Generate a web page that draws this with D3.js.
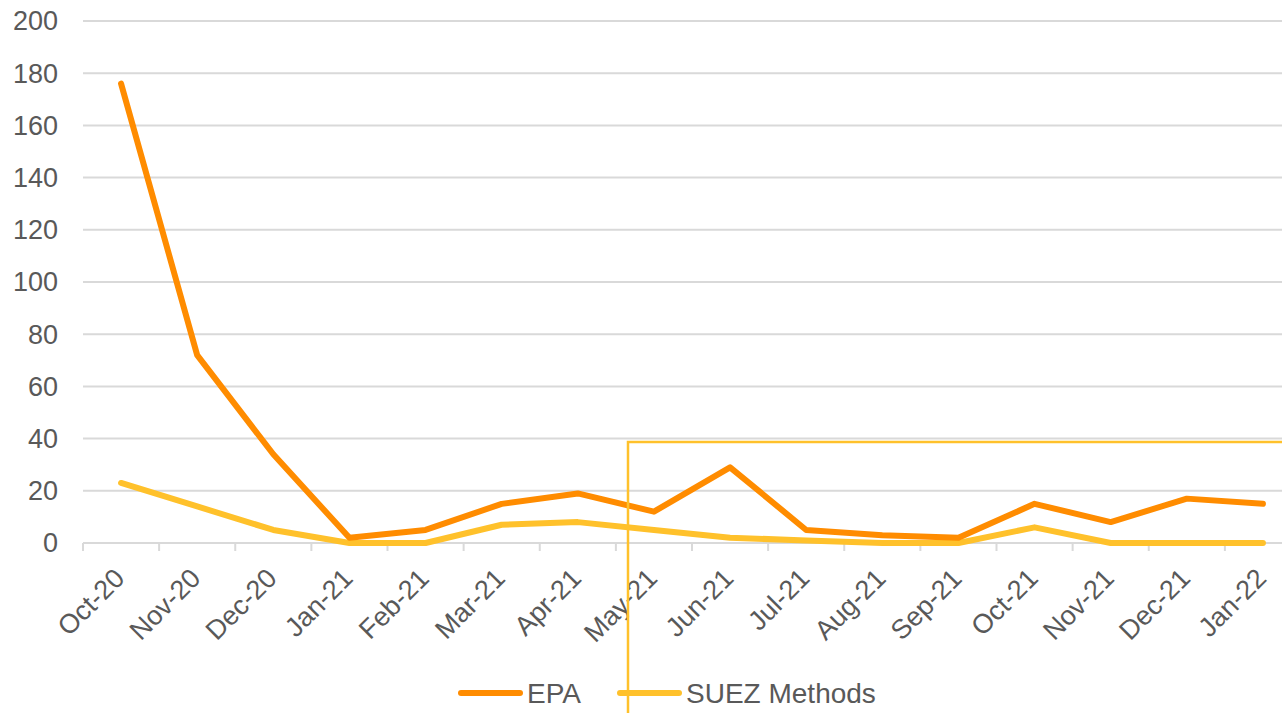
<!DOCTYPE html>
<html lang="en">
<head>
  <meta charset="UTF-8">
  <title>EPA vs SUEZ Methods</title>
  <script src="https://d3js.org/d3.v7.min.js"></script>
  <style>
    body { margin: 0; background: #fff; }
    text { font-family: "Liberation Sans", Arial, sans-serif; fill: #595959; }
  </style>
</head>
<body>
  <svg id="chart" width="1282" height="713"></svg>
  <script>
    const months = ["Oct-20", "Nov-20", "Dec-20", "Jan-21", "Feb-21", "Mar-21", "Apr-21", "May-21",
      "Jun-21", "Jul-21", "Aug-21", "Sep-21", "Oct-21", "Nov-21", "Dec-21", "Jan-22"];
    const epa = [176, 72, 34, 2, 5, 15, 19, 12, 29, 5, 3, 2, 15, 8, 17, 15];
    const suez = [23, 14, 5, 0, 0, 7, 8, 5, 2, 1, 0, 0, 6, 0, 0, 0];
    const yTicks = [0, 20, 40, 60, 80, 100, 120, 140, 160, 180, 200];

    const series = [
      { name: "EPA", values: epa, color: "#FF8C00" },
      { name: "SUEZ Methods", values: suez, color: "#FFC12B" }
    ];

    const svg = d3.select("#chart");
    const width = +svg.attr("width");
    const height = +svg.attr("height");
    const margin = { top: 21, bottom: 170, left: 83 };

    // the category axis runs a little past the right edge of the picture
    const x = d3.scaleBand().domain(months).range([margin.left, 1301]);
    const y = d3.scaleLinear().domain([0, 200]).range([height - margin.bottom, margin.top]);
    const cx = d => x(d) + x.bandwidth() / 2;

    // gridlines
    svg.append("g")
      .selectAll("line")
      .data(yTicks)
      .enter().append("line")
      .attr("x1", margin.left)
      .attr("x2", width)
      .attr("y1", d => y(d))
      .attr("y2", d => y(d))
      .style("stroke", "#d9d9d9")
      .style("stroke-width", 2);

    // y labels
    svg.append("g")
      .selectAll("text")
      .data(yTicks)
      .enter().append("text")
      .attr("x", 58)
      .attr("y", d => y(d))
      .attr("dy", "0.35em")
      .style("text-anchor", "end")
      .style("font-size", "27px")
      .text(d => d);

    // x tick marks at band edges
    const edges = months.map(m => x(m)).concat([x(months[months.length - 1]) + x.bandwidth()]);
    svg.append("g")
      .selectAll("line")
      .data(edges)
      .enter().append("line")
      .attr("x1", d => d)
      .attr("x2", d => d)
      .attr("y1", y(0))
      .attr("y2", y(0) + 8)
      .style("stroke", "#d9d9d9")
      .style("stroke-width", 2);

    // x labels
    svg.append("g")
      .selectAll("text")
      .data(months)
      .enter().append("text")
      .attr("transform", d => `translate(${cx(d) + 5},${y(0) + 37}) rotate(-45)`)
      .style("text-anchor", "end")
      .style("font-size", "27px")
      .text(d => d);

    // lines
    const line = d3.line()
      .x((d, i) => cx(months[i]))
      .y(d => y(d));

    series.slice().reverse().forEach(s => {
      svg.append("path")
        .datum(s.values)
        .attr("d", line)
        .style("fill", "none")
        .style("stroke", s.color)
        .style("stroke-width", 6)
        .style("stroke-linecap", "round")
        .style("stroke-linejoin", "round");
    });

    // highlight box
    svg.append("rect")
      .attr("x", 628)
      .attr("y", 442)
      .attr("width", 700)
      .attr("height", 300)
      .style("fill", "none")
      .style("stroke", "#FFC12B")
      .style("stroke-width", 2.5);

    // legend
    const legend = svg.append("g").attr("transform", "translate(0,693)");
    const legendX = [461, 620];
    series.forEach((s, i) => {
      const g = legend.append("g").attr("transform", `translate(${legendX[i]},0)`);
      g.append("line")
        .attr("x1", 0).attr("x2", 59)
        .attr("y1", 0).attr("y2", 0)
        .style("stroke", s.color)
        .style("stroke-width", 6)
        .style("stroke-linecap", "round");
      g.append("text")
        .attr("x", 66)
        .attr("dy", "0.35em")
        .style("font-size", "28px")
        .text(s.name);
    });
  </script>
</body>
</html>
